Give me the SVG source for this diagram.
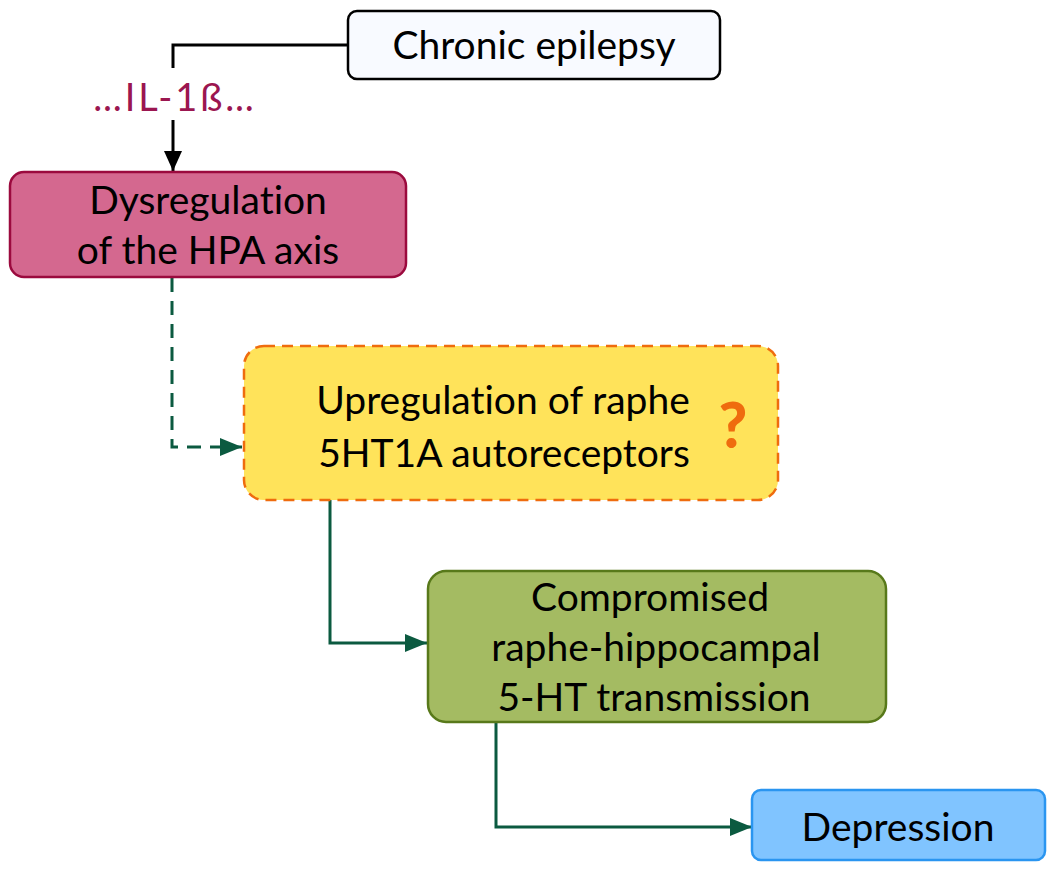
<svg xmlns="http://www.w3.org/2000/svg" width="1050" height="871" viewBox="0 0 1050 871">
<style>
  .t { font-family: Lato, "Liberation Sans", sans-serif; font-size: 39px; fill: #000; text-anchor: middle; font-variant-ligatures: none; }
  .conn { fill: none; stroke-width: 3; }
  .blk { stroke: #000; }
  .grn { stroke: #0b5a40; }
</style>
<defs>
  <marker id="ahBlack" markerWidth="20" markerHeight="20" refX="20" refY="10" orient="auto" markerUnits="userSpaceOnUse" viewBox="0 0 20 20">
    <path d="M0,1 L20,10 L0,19 Z" fill="#000"/>
  </marker>
  <marker id="ahGreen" markerWidth="22" markerHeight="20" refX="22" refY="10" orient="auto" markerUnits="userSpaceOnUse" viewBox="0 0 22 20">
    <path d="M0,1 L22,10 L0,19 Z" fill="#0b5a40"/>
  </marker>
</defs>
<rect width="1050" height="871" fill="#fff"/>

<g id="connectors">
  <path class="conn blk" d="M347,45 H173 V68"/>
  <path class="conn blk" d="M173,120 V171" marker-end="url(#ahBlack)"/>
  <path class="conn grn" d="M172,278 V447 H242" stroke-dasharray="14,9" marker-end="url(#ahGreen)"/>
  <path class="conn grn" d="M330,499 V643 H427" marker-end="url(#ahGreen)"/>
  <path class="conn grn" d="M496,722 V827 H752" marker-end="url(#ahGreen)"/>
</g>

<g id="chronic-epilepsy">
  <rect x="348" y="11" width="372" height="68" rx="9" fill="#f8faff" stroke="#000" stroke-width="2.5"/>
  <text class="t" x="534" y="59">Chronic epilepsy</text>
</g>

<g id="il1b">
  <text x="175" y="111" style="font-family: Lato, 'Liberation Sans', sans-serif; font-size: 38px; letter-spacing: 3px; fill: #9b1650; text-anchor: middle;">…IL-1ß…</text>
</g>

<g id="hpa">
  <rect x="10" y="172" width="396" height="105" rx="14" fill="#d4688f" stroke="#9b0a3e" stroke-width="2.5"/>
  <text class="t" x="208" y="214">Dysregulation</text>
  <text class="t" x="208" y="264">of the HPA axis</text>
</g>

<g id="upregulation">
  <rect x="244" y="346" width="534" height="154" rx="20" fill="#ffe35a" stroke="#ef6c0e" stroke-width="2.5" stroke-dasharray="11,7"/>
  <text class="t" x="503" y="414">Upregulation of raphe</text>
  <text class="t" x="504" y="467">5HT1A autoreceptors</text>
  <text x="733" y="448" style="font-family: Lato, 'Liberation Sans', sans-serif; font-size: 62px; font-weight: 900; fill: #ef6c0e; text-anchor: middle;">?</text>
</g>

<g id="compromised">
  <rect x="428" y="571" width="458" height="151" rx="18" fill="#a4bb62" stroke="#58791a" stroke-width="2.5"/>
  <text class="t" x="650" y="611">Compromised</text>
  <text class="t" x="656" y="661">raphe-hippocampal</text>
  <text class="t" x="654" y="711">5-HT transmission</text>
</g>

<g id="depression">
  <rect x="752" y="790" width="293" height="70" rx="9" fill="#80c4ff" stroke="#2a95f0" stroke-width="2.5"/>
  <text class="t" x="898" y="841">Depression</text>
</g>
</svg>
